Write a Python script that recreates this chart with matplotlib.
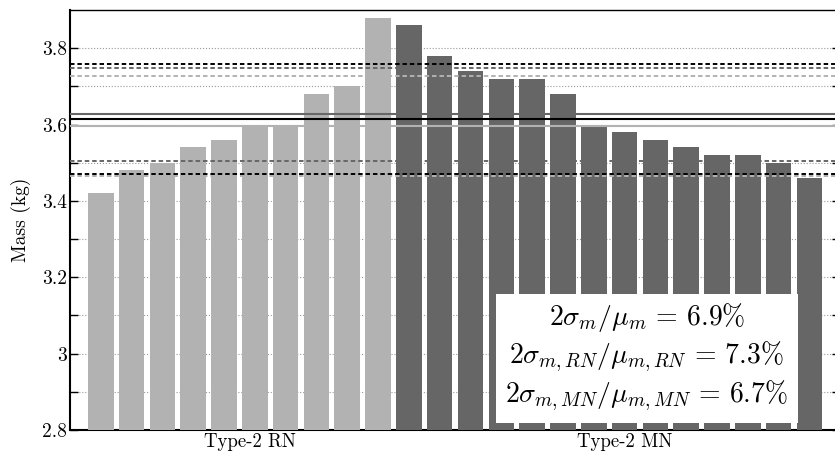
import numpy as np
import matplotlib
matplotlib.use("Agg")
import matplotlib.pyplot as plt

# Measured masses per unit (kg)
rn_mass = [3.42, 3.48, 3.50, 3.54, 3.56, 3.60, 3.60, 3.68, 3.70, 3.88]
mn_mass = [3.86, 3.78, 3.74, 3.72, 3.72, 3.68, 3.60, 3.58, 3.56, 3.54,
           3.52, 3.52, 3.50, 3.46]
group_labels = ["Type-2 RN", "Type-2 MN"]
y_ticks = [2.8, 3.0, 3.2, 3.4, 3.6, 3.8]
y_tick_labels = ["2.8", "3", "3.2", "3.4", "3.6", "3.8"]
y_minor = [2.9, 3.1, 3.3, 3.5, 3.7]
tol = 0.04  # +/- band around the overall mean

plt.rcParams["font.family"] = "serif"
plt.rcParams["font.serif"] = ["cmr10"]
plt.rcParams["mathtext.fontset"] = "cm"
plt.rcParams["axes.unicode_minus"] = False

light = "#b2b2b2"
dark = "#666666"

all_mass = np.array(rn_mass + mn_mass)
rn = np.array(rn_mass)
mn = np.array(mn_mass)
n_rn = len(rn)
x = np.arange(len(all_mass))
colors = [light] * n_rn + [dark] * len(mn)

fig = plt.figure(figsize=(8.35, 4.51), dpi=100)
ax = fig.add_axes([70 / 835, 21 / 451, 770.2 / 835, 420 / 451])

ax.bar(x, all_mass, width=0.83, color=colors, zorder=3)

# means and spreads
mu, sd = all_mass.mean(), all_mass.std(ddof=1)
mu_rn, sd_rn = rn.mean(), rn.std(ddof=1)
mu_mn, sd_mn = mn.mean(), mn.std(ddof=1)

dash = (0, (2.3, 1.5))
ax.axhline(mu_mn, color=dark, lw=1.5, zorder=4)
ax.axhline(mu, color="black", lw=1.5, zorder=4)
ax.axhline(mu_rn, color=light, lw=1.5, zorder=4)
for v in (mu_rn - sd_rn, mu_rn + sd_rn):
    ax.axhline(v, color=light, lw=1.4, ls=dash, zorder=4)
for v in (mu_mn - sd_mn, mu_mn + sd_mn):
    ax.axhline(v, color=dark, lw=1.4, ls=dash, zorder=4)
for v in (mu * (1 - tol), mu * (1 + tol)):
    ax.axhline(v, color="black", lw=1.4, ls=dash, zorder=4)

ax.set_xlim(-1, len(all_mass))
ax.set_ylim(2.8, 3.9)
ax.set_yticks(y_ticks)
ax.set_yticklabels(y_tick_labels)
ax.set_yticks(y_minor, minor=True)
ax.tick_params(axis="y", which="both", direction="in", length=6, width=1,
               left=True, right=True, labelsize=14, pad=2)
ax.set_xticks([n_rn / 2 - 0.15, (n_rn + len(all_mass)) / 2])
ax.set_xticklabels(group_labels)
ax.tick_params(axis="x", length=0, labelsize=13.5, pad=2)
ax.grid(axis="y", which="both", ls=":", color="#999999", lw=0.8)
ax.set_axisbelow(True)
ax.set_ylabel("Mass (kg)", fontsize=14, labelpad=8)

ax.spines["left"].set_linewidth(1.5)
ax.spines["bottom"].set_linewidth(1.5)
ax.spines["top"].set_linewidth(1.0)

txt = (r"$2\sigma_m/\mu_m\,=\,%.1f\%%$" % (200 * sd / mu) + "\n"
       + r"$2\sigma_{m,RN}/\mu_{m,RN}\,=\,%.1f\%%$" % (200 * sd_rn / mu_rn) + "\n"
       + r"$2\sigma_{m,MN}/\mu_{m,MN}\,=\,%.1f\%%$" % (200 * sd_mn / mu_mn))
ax.text(0.749, 0.173, txt, transform=ax.transAxes, ha="center", va="center",
        fontsize=20, linespacing=1.22, zorder=5,
        bbox=dict(boxstyle="square,pad=0.33", fc="white", ec="none"))

fig.savefig("out.png", dpi=100)
